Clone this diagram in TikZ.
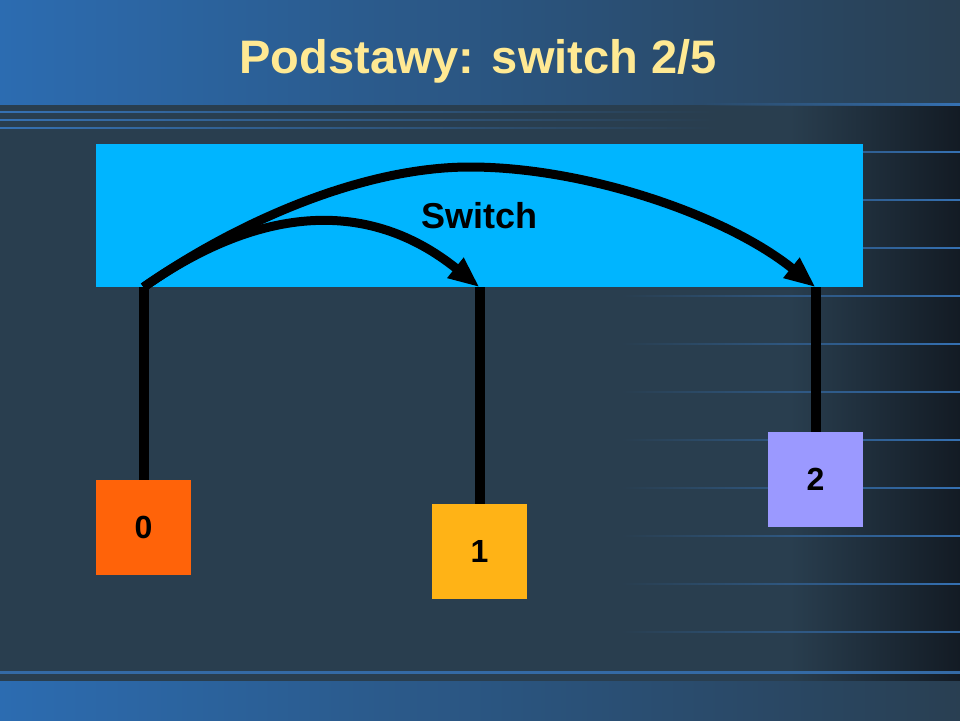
\documentclass[tikz,border=0pt]{standalone}
\usepackage{fontspec}
\setmainfont{Liberation Sans}
\usetikzlibrary{arrows.meta,fadings,calc}
\definecolor{bodybg}{HTML}{293E4F}
\definecolor{bodydark}{HTML}{131B24}
\definecolor{bandL}{HTML}{2C6CB1}
\definecolor{bandM}{HTML}{2A5586}
\definecolor{bandR}{HTML}{293F52}
\definecolor{lineblue}{HTML}{3672B4}
\definecolor{swblue}{HTML}{00B5FF}
\definecolor{orangebox}{HTML}{FF6309}
\definecolor{yellowbox}{HTML}{FFB316}
\definecolor{violetbox}{HTML}{9B99FF}
\definecolor{titlecol}{HTML}{FFE993}
\tikzfading[name=fadetoleft, left color=transparent!100, right color=transparent!0]
\tikzfading[name=fadetoright, left color=transparent!0, right color=transparent!100]
\tikzset{
  swbox/.style={rectangle, fill=swblue, inner sep=0pt, minimum width=767pt, minimum height=143pt,
    font=\fontsize{36}{40}\selectfont\bfseries, text=black},
  portbox/.style={rectangle, inner sep=0pt, minimum width=95pt, minimum height=95pt,
    font=\fontsize{32}{36}\selectfont\bfseries, text=black},
  titletext/.style={anchor=base, inner sep=0pt, text=titlecol, font=\fontsize{47}{54}\selectfont\bfseries},
  vline/.style={draw=black, line width=10pt},
  arcline/.style={draw=black, line width=9pt, -{Triangle[length=31pt,width=24pt]}},
  stripe/.style={fill=lineblue}
}
\begin{document}
\begin{tikzpicture}[x=1pt,y=-1pt]
\useasboundingbox (0,0) rectangle (960,720);
% background
\fill[bodybg] (0,0) rectangle (960,720);
\shade[left color=bodybg, right color=bodydark] (790,104) rectangle (960,681);
\shade[left color=bandL, middle color=bandM, right color=bandR] (0,0) rectangle (960,104);
\shade[left color=bandL, middle color=bandM, right color=bandR] (0,681) rectangle (960,720);
% stripes
\fill[stripe, path fading=fadetoleft] (700,103) rectangle (960,105.5);
\foreach \yy in {112,120,128} {
  \fill[stripe, path fading=fadetoright] (0,\yy-1) rectangle (720,\yy+1);
}
\foreach \yy in {152,200,248,296,344,392,440,488,536,584,632} {
  \fill[stripe, path fading=fadetoleft] (620,\yy-1) rectangle (960,\yy+1);
}
\fill[lineblue!85!bodybg] (0,671) rectangle (960,673.5);
% title
\node[titletext] (title) at (478,73) {Podstawy: switch 2/5};
% switch and ports
\node[swbox] (sw) at (479.5,215.5) {Switch};
\node[portbox, fill=orangebox] (p0) at (143.5,527.5) {0};
\node[portbox, fill=yellowbox] (p1) at (479.5,551.5) {1};
\node[portbox, fill=violetbox] (p2) at (815.5,479.5) {2};
\coordinate (s0) at (p0.north |- sw.south);
\coordinate (s1) at (p1.north |- sw.south);
\coordinate (s2) at (p2.north |- sw.south);
\coordinate (top) at (470,167);
% connectors
\draw[vline] (p0.north) -- (s0);
\draw[vline] (p1.north) -- (s1);
\draw[vline] (p2.north) -- (s2);
\draw[arcline] (s0) .. controls (234,224) and (360,167) .. (top)
  .. controls (585,167) and (726,215) .. (s2);
\draw[arcline] (s0) .. controls (262,204) and (370,199) .. (s1);
\end{tikzpicture}
\end{document}
